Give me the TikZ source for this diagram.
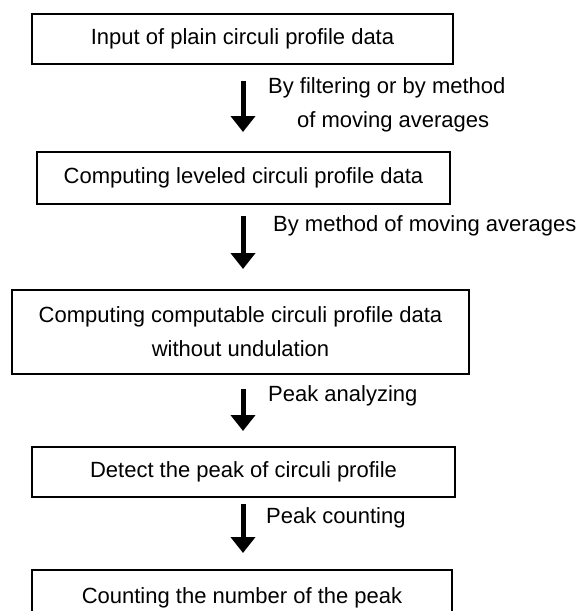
\documentclass[tikz,border=0pt]{standalone}
\usepackage{fontspec}
\setmainfont{Liberation Sans}
\usetikzlibrary{arrows.meta}
\begin{document}
\begin{tikzpicture}[x=1pt,y=-1pt,
  stepbox/.style={draw=black,line width=1.2pt,inner sep=0pt,anchor=center,align=center,
    font=\fontsize{22}{34}\selectfont},
  flowarrow/.style={line width=5pt,-{Triangle[width=24pt,length=16pt]}},
  lbl/.style={anchor=west,inner sep=0pt,font=\fontsize{22}{33}\selectfont}]
\useasboundingbox (0,0) rectangle (582,611);
\clip (0,0) rectangle (582,611);
\fill[white] (0,0) rectangle (582,611);
\node[stepbox,minimum width=421pt,minimum height=50pt] (b1) at (242.5,39) {Input of plain circuli profile data};
\node[stepbox,minimum width=413pt,minimum height=52pt] (b2) at (243.5,178) {Computing leveled circuli profile data};
\node[stepbox,minimum width=457pt,minimum height=84pt] (b3) at (240.5,332) {Computing computable circuli profile data\\without undulation};
\node[stepbox,minimum width=423pt,minimum height=50pt] (b4) at (243.5,472) {Detect the peak of circuli profile};
\node[stepbox,minimum width=420pt,minimum height=56pt] (b5) at (242,598) {Counting the number of the peak};
\coordinate (a1s) at (243,81);  \coordinate (a1e) at (243,132);
\coordinate (a2s) at (243,216); \coordinate (a2e) at (243,269);
\coordinate (a3s) at (243,389); \coordinate (a3e) at (243,431);
\coordinate (a4s) at (243,504); \coordinate (a4e) at (243,553);
\draw[flowarrow] (a1s) -- (a1e);
\draw[flowarrow] (a2s) -- (a2e);
\draw[flowarrow] (a3s) -- (a3e);
\draw[flowarrow] (a4s) -- (a4e);
\node[lbl] (l1a) at (268,88) {By filtering or by method};
\node[lbl] (l1b) at (297,122) {of moving averages};
\node[lbl] (l2) at (273,226) {By method of moving averages};
\node[lbl] (l3) at (268,396) {Peak analyzing};
\node[lbl] (l4) at (266,518) {Peak counting};
\end{tikzpicture}
\end{document}
